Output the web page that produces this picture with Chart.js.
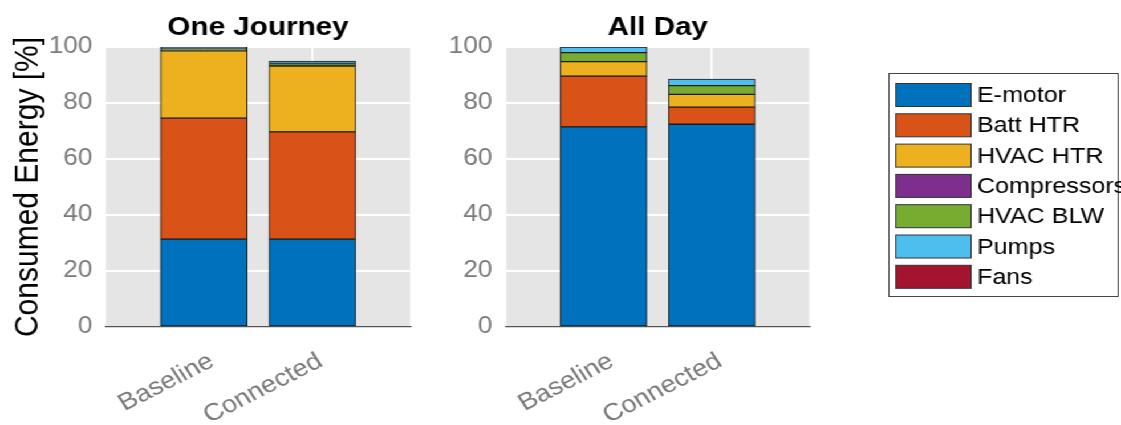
<!DOCTYPE html>
<html>
<head>
<meta charset="utf-8">
<title>Consumed Energy</title>
<script src="https://cdn.jsdelivr.net/npm/chart.js@4.4.1/dist/chart.umd.min.js"></script>
<style>
  html, body { margin: 0; padding: 0; background: #fff; overflow: hidden; }
  /* figure is laid out at 983px and stretched to the 1121px window */
  #stage { position: absolute; left: 0; top: 0; width: 983px; height: 425px;
           transform: scaleX(1.1404); transform-origin: 0 0; }
  #stage canvas { position: absolute; top: 0; }
</style>
</head>
<body>
<div id="stage">
  <canvas id="journey" width="380" height="425" style="left:0;width:380px;height:425px"></canvas>
  <canvas id="allday" width="603" height="425" style="left:380px;width:603px;height:425px"></canvas>
</div>
<script>
const categories = ['Baseline', 'Connected'];
const components = ['E-motor', 'Batt HTR', 'HVAC HTR', 'Compressors', 'HVAC BLW', 'Pumps', 'Fans'];
const colors = ['#0072BD', '#D95319', '#EDB120', '#7E2F8E', '#77AC30', '#4DBEEE', '#A2142F'];
const yTicks = [0, 20, 40, 60, 80, 100];

// share of consumed energy [%], one value per scenario: [Baseline, Connected]
const journeyEmotor      = [31.4, 31.4];
const journeyBattHtr     = [43.2, 38.3];
const journeyHvacHtr     = [24.0, 23.5];
const journeyCompressors = [0, 0];
const journeyHvacBlw     = [0.7, 0.9];
const journeyPumps       = [0.7, 0.9];
const journeyFans        = [0, 0];

const dayEmotor      = [71.5, 72.4];
const dayBattHtr     = [18.1, 6.1];
const dayHvacHtr     = [5.2, 4.6];
const dayCompressors = [0, 0];
const dayHvacBlw     = [3.2, 3.1];
const dayPumps       = [2.0, 2.3];
const dayFans        = [0, 0];

const FONT = "'Liberation Sans', Arial, Helvetica, sans-serif";
Chart.defaults.font.family = FONT;

function stackSets(rows) {
  return rows.map((vals, k) => ({
    label: components[k],
    data: vals.map((v, i) => ({ x: i + 1, y: v })),
    backgroundColor: colors[k],
    borderColor: '#1a1a1a',
    borderWidth: 1,
    borderSkipped: false,
    barThickness: 76,
  }));
}

// grey axes background behind the grid
const plotBg = {
  id: 'plotBg',
  beforeDraw(chart) {
    const { ctx, chartArea: a } = chart;
    ctx.save();
    ctx.fillStyle = '#e5e5e5';
    ctx.fillRect(a.left, a.top, a.width, a.height);
    ctx.restore();
  },
};

// framed legend to the right of the second axes
const boxLegend = {
  id: 'boxLegend',
  afterDraw(chart) {
    const ctx = chart.ctx;
    const left = 399, top = 73, width = 202, height = 224;
    ctx.save();
    ctx.fillStyle = '#fff';
    ctx.fillRect(left, top, width, height);
    ctx.strokeStyle = '#444';
    ctx.lineWidth = 1;
    ctx.strokeRect(left + 0.5, top + 0.5, width - 1, height - 1);
    ctx.font = '22px ' + FONT;
    ctx.textBaseline = 'middle';
    chart.data.datasets.forEach((ds, k) => {
      const cy = 95 + k * 30.3;
      ctx.fillStyle = ds.backgroundColor;
      ctx.fillRect(405, cy - 11.5, 67, 23);
      ctx.strokeStyle = '#333';
      ctx.strokeRect(405.5, cy - 11.5, 66, 23);
      ctx.fillStyle = '#000';
      ctx.fillText(ds.label, 476.7, cy + 1);
    });
    ctx.restore();
  },
};

function options(title, yWidth, padRight, yTitle) {
  return {
    responsive: false,
    animation: false,
    devicePixelRatio: 1,
    layout: { padding: { left: 0, right: padRight, top: 0, bottom: 0 } },
    plugins: {
      legend: { display: false },
      tooltip: { enabled: false },
      title: {
        display: true, text: title, fullSize: false, color: '#000',
        font: { family: FONT, size: 26, weight: 'bold' },
        padding: { top: 12, bottom: 3.8 },
      },
    },
    scales: {
      x: {
        type: 'linear', stacked: true, min: 0.1, max: 2.9, offset: false,
        afterBuildTicks: s => { s.ticks = categories.map((c, i) => ({ value: i + 1 })); },
        afterFit: s => { s.height = 98; },
        grid: { color: '#fff', lineWidth: 1.8, drawTicks: false, offset: false },
        border: { display: true, color: '#555', width: 1.2 },
        ticks: {
          autoSkip: false, maxRotation: 30, minRotation: 30,
          padding: 20, labelOffset: 7, color: '#7a7a7a',
          font: { family: FONT, size: 24 },
          callback: v => categories[v - 1],
        },
      },
      y: {
        stacked: true, min: 0, max: 100,
        afterBuildTicks: s => { s.ticks = yTicks.map(v => ({ value: v })); },
        afterFit: s => { s.width = yWidth; },
        grid: { color: '#fff', lineWidth: 2, drawTicks: false },
        border: { display: false },
        ticks: { padding: 12, color: '#7a7a7a', font: { family: FONT, size: 23 } },
        title: {
          display: !!yTitle, text: yTitle || '', color: '#000',
          font: { family: FONT, size: 30 },
          padding: { top: 7, bottom: 0 },
        },
      },
    },
  };
}

new Chart(document.getElementById('journey'), {
  type: 'bar',
  data: { datasets: stackSets([journeyEmotor, journeyBattHtr, journeyHvacHtr, journeyCompressors, journeyHvacBlw, journeyPumps, journeyFans]) },
  options: options('One Journey', 93, 20.4, 'Consumed Energy [%]'),
  plugins: [plotBg],
});

new Chart(document.getElementById('allday'), {
  type: 'bar',
  data: { datasets: stackSets([dayEmotor, dayBattHtr, dayHvacHtr, dayCompressors, dayHvacBlw, dayPumps, dayFans]) },
  options: options('All Day', 63.9, 273.4, ''),
  plugins: [plotBg, boxLegend],
});
</script>
</body>
</html>
